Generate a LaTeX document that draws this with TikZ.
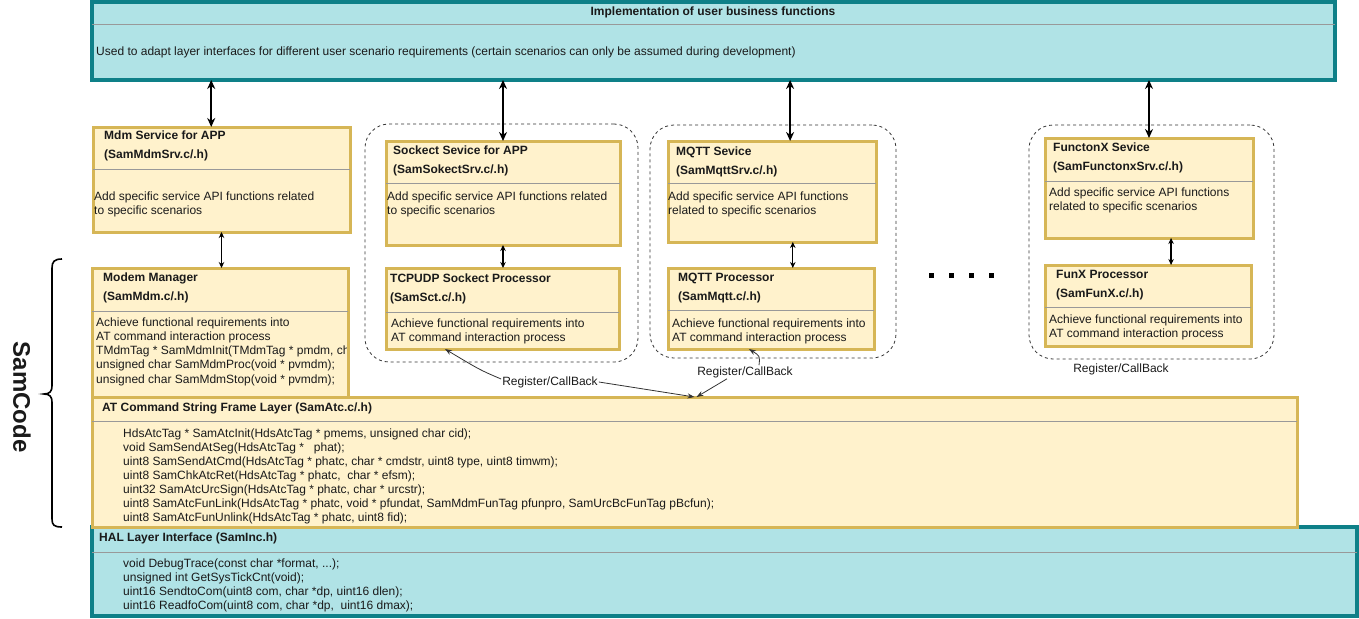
\documentclass[tikz,border=0pt]{standalone}
\usepackage{fontspec}
\setmainfont{Liberation Sans}
\usetikzlibrary{arrows.meta,calc}
\definecolor{yfill}{HTML}{FFF2CC}
\definecolor{ydraw}{HTML}{D6B656}
\definecolor{tfill}{HTML}{B0E3E6}
\definecolor{tdraw}{HTML}{0E8088}
\definecolor{sepc}{HTML}{999999}
\definecolor{txt}{HTML}{1A1A1A}
\definecolor{grp}{HTML}{333333}
\tikzset{
  ybox/.style={draw=ydraw, fill=yfill, line width=3pt, inner sep=0pt, outer sep=0pt, anchor=north west},
  tbox/.style={draw=tdraw, fill=tfill, line width=3.2pt, inner sep=0pt, outer sep=0pt, anchor=north west},
  grpbox/.style={draw=grp, dashed, line width=0.8pt, rounded corners=24pt, inner sep=0pt, outer sep=0pt, anchor=north west},
  sepline/.style={draw=sepc, line width=1pt},
  ttl/.style={font=\fontsize{12}{19}\selectfont\bfseries, align=left, anchor=west, inner sep=0pt, text=txt},
  bodytxt/.style={font=\fontsize{12}{14}\selectfont, align=left, anchor=west, inner sep=0pt, text=txt},
  bigarr/.style={line width=2pt, {Stealth[length=9pt,width=8pt]}-{Stealth[length=9pt,width=8pt]}},
  midarr/.style={line width=1.2pt, {Stealth[length=6pt,width=5.5pt]}-{Stealth[length=6pt,width=5.5pt]}},
  regarr/.style={draw=grp, line width=0.8pt, -{Stealth[length=7pt,width=5pt]}},
  reglbl/.style={font=\fontsize{12}{14}\selectfont, inner sep=1pt, text=txt}
}
\begin{document}
\begin{tikzpicture}[x=1pt,y=-1pt]
\useasboundingbox (0,0) rectangle (1359,618);

% ---------- top box ----------
\node[tbox, minimum width=1243pt, minimum height=78pt] (top) at (92,2) {};
\draw[sepline] (top.west |- 0,25) -- (top.east |- 0,25);
\node[font=\fontsize{12}{14}\selectfont\bfseries, inner sep=0pt, text=txt] (toptitle) at (713,12) {Implementation of user business functions};
\node[bodytxt] (topbody) at (96,52) {Used to adapt layer interfaces for different user scenario requirements (certain scenarios can only be assumed during development)};

% ---------- groups ----------
\node[grpbox, minimum width=273pt, minimum height=238pt] (g1) at (365,124) {};
\node[grpbox, minimum width=246pt, minimum height=233pt] (g2) at (650,125) {};
\node[grpbox, minimum width=245pt, minimum height=234pt] (g3) at (1029,125) {};

% ---------- Mdm service ----------
\node[ybox, minimum width=257pt, minimum height=105pt] (mdmsrv) at (93,127) {};
\draw[sepline] (mdmsrv.west |- 0,169) -- (mdmsrv.east |- 0,169);
\node[ttl] (mdmsrvt) at (104,145.5) {Mdm Service for APP\\(SamMdmSrv.c/.h)};
\node[bodytxt] (mdmsrvb) at (94,204) {Add specific service API functions related\\to specific scenarios};

% ---------- Modem manager ----------
\node[ybox, minimum width=256pt, minimum height=129pt] (mdm) at (92,268) {};
\draw[sepline] (mdm.west |- 0,311) -- (mdm.east |- 0,311);
\node[ttl] (mdmt) at (103,287.5) {Modem Manager\\(SamMdm.c/.h)};
\begin{scope}
\clip (92,300) rectangle (346.5,396);
\node[bodytxt, font=\fontsize{12}{14.25}\selectfont] (mdmb) at (96,351.5) {Achieve functional requirements into\\AT command interaction process\\TMdmTag * SamMdmInit(TMdmTag * pmdm, ch\\unsigned char SamMdmProc(void * pvmdm);\\unsigned char SamMdmStop(void * pvmdm);};
\end{scope}

% ---------- Socket ----------
\node[ybox, minimum width=234pt, minimum height=104pt] (socksrv) at (386,141) {};
\draw[sepline] (socksrv.west |- 0,183) -- (socksrv.east |- 0,183);
\node[ttl] (socksrvt) at (393,161) {Sockect Sevice for APP\\(SamSokectSrv.c/.h)};
\node[bodytxt] (socksrvb) at (387,204) {Add specific service API functions related\\to specific scenarios};

\node[ybox, minimum width=233pt, minimum height=81pt] (tcp) at (386,268) {};
\draw[sepline] (tcp.west |- 0,312) -- (tcp.east |- 0,312);
\node[ttl] (tcpt) at (390,289) {TCPUDP Sockect Processor\\(SamSct.c/.h)};
\node[bodytxt] (tcpb) at (391,331) {Achieve functional requirements into\\AT command interaction process};

% ---------- MQTT ----------
\node[ybox, minimum width=208pt, minimum height=101pt] (mqsrv) at (668,141) {};
\draw[sepline] (mqsrv.west |- 0,183) -- (mqsrv.east |- 0,183);
\node[ttl] (mqsrvt) at (676,161.5) {MQTT Sevice\\(SamMqttSrv.c/.h)};
\node[bodytxt] (mqsrvb) at (668,204) {Add specific service API functions\\related to specific scenarios};

\node[ybox, minimum width=206pt, minimum height=81pt] (mqproc) at (668,268) {};
\draw[sepline] (mqproc.west |- 0,310) -- (mqproc.east |- 0,310);
\node[ttl] (mqproct) at (678,288) {MQTT Processor\\(SamMqtt.c/.h)};
\node[bodytxt] (mqprocb) at (672,331) {Achieve functional requirements into\\AT command interaction process};

% ---------- FunctionX ----------
\node[ybox, minimum width=208pt, minimum height=100pt] (fxsrv) at (1045,138) {};
\draw[sepline] (fxsrv.west |- 0,181) -- (fxsrv.east |- 0,181);
\node[ttl] (fxsrvt) at (1053,158) {FunctonX Sevice\\(SamFunctonxSrv.c/.h)};
\node[bodytxt] (fxsrvb) at (1049,200.5) {Add specific service API functions\\related to specific scenarios};

\node[ybox, minimum width=206pt, minimum height=81pt] (funx) at (1045,265) {};
\draw[sepline] (funx.west |- 0,307) -- (funx.east |- 0,307);
\node[ttl] (funxt) at (1056,285) {FunX Processor\\(SamFunX.c/.h)};
\node[bodytxt] (funxb) at (1049,327.5) {Achieve functional requirements into\\AT command interaction process};

% ---------- HAL ----------
\node[tbox, minimum width=1265pt, minimum height=89pt] (hal) at (92,527) {};
\draw[sepline] (hal.west |- 0,552) -- (hal.east |- 0,552);
\node[ttl] (halt) at (99,538) {HAL Layer Interface (SamInc.h)};
\node[bodytxt] (halb) at (123,585) {void DebugTrace(const char *format, ...);\\unsigned int GetSysTickCnt(void);\\uint16 SendtoCom(uint8 com, char *dp, uint16 dlen);\\uint16 ReadfoCom(uint8 com, char *dp,~ uint16 dmax);};

% ---------- AT layer ----------
\node[ybox, minimum width=1205pt, minimum height=130pt] (at) at (92,397) {};
\draw[sepline] (at.west |- 0,421) -- (at.east |- 0,421);
\node[ttl] (att) at (102,408) {AT Command String Frame Layer (SamAtc.c/.h)};
\node[bodytxt] (atb) at (123,476) {HdsAtcTag * SamAtcInit(HdsAtcTag * pmems, unsigned char cid);\\void SamSendAtSeg(HdsAtcTag *~~ phat);\\uint8 SamSendAtCmd(HdsAtcTag * phatc, char * cmdstr, uint8 type, uint8 timwm);\\uint8 SamChkAtcRet(HdsAtcTag * phatc,~ char * efsm);\\uint32 SamAtcUrcSign(HdsAtcTag * phatc, char * urcstr);\\uint8 SamAtcFunLink(HdsAtcTag * phatc, void * pfundat, SamMdmFunTag pfunpro, SamUrcBcFunTag pBcfun);\\uint8 SamAtcFunUnlink(HdsAtcTag * phatc, uint8 fid);};

% ---------- top arrows ----------
\coordinate (a1) at ($(mdmsrv.north west)!0.46!(mdmsrv.north east)$);
\draw[bigarr] (top.south -| a1) -- (a1);
\draw[bigarr] (top.south -| socksrv.north) -- (socksrv.north);
\coordinate (a3) at ($(mqsrv.north west)!0.587!(mqsrv.north east)$);
\draw[bigarr] (top.south -| a3) -- (a3);
\draw[bigarr] (top.south -| fxsrv.north) -- (fxsrv.north);

% ---------- inner arrows ----------
\draw[midarr] (mdmsrv.south) -- (mdm.north -| mdmsrv.south);
\draw[midarr] (socksrv.south) -- (tcp.north -| socksrv.south);
\coordinate (b3) at ($(mqsrv.south west)!0.60!(mqsrv.south east)$);
\draw[midarr] (b3) -- (mqproc.north -| b3);
\coordinate (b4) at ($(fxsrv.south west)!0.606!(fxsrv.south east)$);
\draw[midarr] (b4) -- (funx.north -| b4);

% ---------- dots ----------
\foreach \dx in {928.5,948.5,968.5,988.5} \fill[black] (\dx,272.5) rectangle ++(5,5);

% ---------- register / callback ----------
\node[reglbl] (lbl1) at (550,382) {Register/CallBack};
\node[reglbl] (lbl2) at (745,372) {Register/CallBack};
\node[reglbl] (lbl3) at (1121,369) {Register/CallBack};
\coordinate (tcpend) at ($(tcp.south west)!0.253!(tcp.south east)$);
\coordinate (mqend) at ($(mqproc.south west)!0.393!(mqproc.south east)$);
\draw[regarr] ($(lbl1.west)+(0,-3)$) .. controls (480,370) .. (tcpend);
\draw[regarr] (lbl1.east) -- (at.north);
\draw[regarr] ($(lbl2.north)+(14,0)$) .. controls (760,356) .. (mqend);
\draw[regarr] ($(lbl2.south)+(-18,0)$) -- ($(at.north)+(2,0)$);

% ---------- SamCode brace ----------
\draw[line width=1.6pt] (62,259) .. controls (54,259) and (52,262) .. (52,268)
  -- (52,386) .. controls (52,391) and (50,394) .. (44,394)
  .. controls (50,394) and (52,397) .. (52,402)
  -- (52,519) .. controls (52,525) and (54,527) .. (62,527);
\node[rotate=-90, font=\fontsize{24}{28}\selectfont\bfseries, text=txt] (samcode) at (22,397) {SamCode};
\end{tikzpicture}
\end{document}
